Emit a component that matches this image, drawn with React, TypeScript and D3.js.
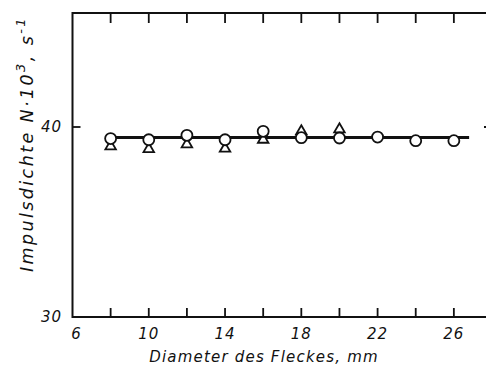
import React, { useEffect, useRef } from "react";
import * as d3 from "d3";

const diameters = [8, 10, 12, 14, 16, 18, 20, 22, 24, 26];
const circleValues = [39.39, 39.33, 39.56, 39.33, 39.77, 39.44, 39.42, 39.47, 39.28, 39.28];
const triangleX = [8, 10, 12, 14, 16, 18, 20];
const triangleValues = [38.98, 38.84, 39.09, 38.86, 39.33, 39.77, 39.88];
const fitX = [7.7, 26.8];
const fitY = [39.45, 39.45];
const xTicks = [8, 10, 12, 14, 16, 18, 20, 22, 24, 26];
const xLabels = [6, 10, 14, 18, 22, 26];
const yLabels = [30, 40];

const App = () => {
    const ref = useRef(null);
    const width = 486;
    const height = 366;
    const font = "'DejaVu Sans', sans-serif";

    useEffect(() => {
        const svg = d3.select(ref.current);
        svg.selectAll("*").remove();

        const x = d3.scaleLinear().domain([6, 28]).range([72.5, 492]);
        const y = d3.scaleLinear().domain([30, 46]).range([317, 13]);
        const [x0, x1] = x.range();
        const [y0, y1] = y.range();

        // frame
        svg.append("rect")
            .attr("x", x0).attr("y", y1)
            .attr("width", x1 - x0).attr("height", y0 - y1)
            .attr("fill", "none").attr("stroke", "#111").attr("stroke-width", 2);

        // ticks top & bottom
        const g = svg.append("g").attr("stroke", "#111").attr("stroke-width", 1.8);
        xTicks.forEach(t => {
            g.append("line").attr("x1", x(t)).attr("x2", x(t)).attr("y1", y1).attr("y2", y1 + 10);
            g.append("line").attr("x1", x(t)).attr("x2", x(t)).attr("y1", y0).attr("y2", y0 - 9);
        });
        g.append("line").attr("x1", x0).attr("x2", x0 + 8).attr("y1", y(40)).attr("y2", y(40));
        g.append("line").attr("x1", x1).attr("x2", x1 - 8).attr("y1", y(40)).attr("y2", y(40));

        // tick labels
        svg.append("g").selectAll("text").data(xLabels).enter().append("text")
            .attr("x", d => x(d) + (d === 6 ? 4 : 0))
            .attr("y", 339)
            .attr("text-anchor", "middle")
            .attr("font-family", font).attr("font-style", "italic").attr("font-size", 15)
            .attr("font-weight", 500).attr("letter-spacing", 1)
            .attr("fill", "#111")
            .text(d => d);

        svg.append("g").selectAll("text").data(yLabels).enter().append("text")
            .attr("x", 62)
            .attr("y", d => y(d) + 5)
            .attr("text-anchor", "end")
            .attr("font-family", font).attr("font-style", "italic").attr("font-size", 15)
            .attr("font-weight", 500).attr("letter-spacing", 1)
            .attr("fill", "#111")
            .text(d => d);

        // axis titles
        svg.append("text")
            .attr("x", 264).attr("y", 362)
            .attr("text-anchor", "middle")
            .attr("font-family", font).attr("font-style", "italic").attr("font-size", 15)
            .attr("letter-spacing", 1.2)
            .attr("fill", "#111")
            .text("Diameter des Fleckes, mm");

        const yt = svg.append("text")
            .attr("transform", "translate(33, 144) rotate(-90)")
            .attr("text-anchor", "middle")
            .attr("font-family", font).attr("font-style", "italic").attr("font-size", 17.5)
            .attr("letter-spacing", 2.4)
            .attr("fill", "#111");
        yt.append("tspan").text("Impulsdichte N·10");
        yt.append("tspan").attr("dy", -8).attr("font-size", 13).text("3");
        yt.append("tspan").attr("dy", 8).text(", s");
        yt.append("tspan").attr("dy", -8).attr("font-size", 13).text("-1");

        // fitted line
        const line = d3.line<number>().x((d, i) => x(fitX[i])).y(d => y(d));
        svg.append("path")
            .attr("d", line(fitY))
            .attr("fill", "none").attr("stroke", "#111").attr("stroke-width", 3);

        // triangles
        const tri = d3.symbol().type(d3.symbolTriangle).size(48);
        svg.append("g").selectAll("path").data(triangleValues).enter().append("path")
            .attr("d", tri)
            .attr("transform", (d, i) => `translate(${x(triangleX[i])},${y(d)})`)
            .attr("fill", "white").attr("stroke", "#111").attr("stroke-width", 1.8);

        // circles
        svg.append("g").selectAll("circle").data(circleValues).enter().append("circle")
            .attr("cx", (d, i) => x(diameters[i]))
            .attr("cy", d => y(d))
            .attr("r", 5.5)
            .attr("fill", "white").attr("stroke", "#111").attr("stroke-width", 1.8);
    }, []);

    return (
        <svg ref={ref} width={width} height={height}
             style={{position: "absolute", left: 0, top: 0, background: "white"}} />
    );
};

export default App;
